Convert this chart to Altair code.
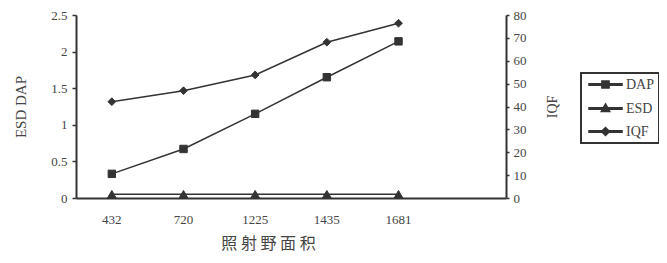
import altair as alt
import pandas as pd

# ---- data ----
areas = ["432", "720", "1225", "1435", "1681"]
dap = [0.33, 0.67, 1.15, 1.65, 2.14]
esd = [0.05, 0.05, 0.05, 0.05, 0.05]
iqf = [42.1, 46.9, 53.8, 68.1, 76.4]
x_domain = areas + [""]          # empty sixth slot at the right of the x axis
series_names = ["DAP", "ESD", "IQF"]
left_ticks = [0, 0.5, 1, 1.5, 2, 2.5]
right_ticks = [0, 10, 20, 30, 40, 50, 60, 70, 80]

rows = []
for a, d, e, q in zip(areas, dap, esd, iqf):
    rows.append({"area": a, "series": "DAP", "value": d})
    rows.append({"area": a, "series": "ESD", "value": e})
    rows.append({"area": a, "series": "IQF", "value": q})
df = pd.DataFrame(rows)

INK = "#333333"
TXT = "#444444"
SERIF = "Liberation Serif"

x_enc = alt.X(
    "area:N",
    sort=x_domain,
    scale=alt.Scale(domain=x_domain, type="band", paddingInner=0, paddingOuter=0),
    axis=alt.Axis(
        title="照 射 野 面 积",
        titleFont="Noto Sans CJK SC",
        titleFontSize=16,
        titleFontWeight="normal",
        titleColor=TXT,
        titlePadding=9,
        titleX=192,
        labelAngle=0,
        labelFontSize=13,
        labelPadding=15,
        ticks=False,
    ),
)

left_axis = alt.Axis(
    values=left_ticks,
    format="~g",
    title="ESD  DAP",
    titleFontSize=15,
    titlePadding=22,
    tickSize=4,
    labelPadding=5,
)
right_axis = alt.Axis(
    orient="right",
    values=right_ticks,
    format="d",
    title="IQF",
    titleAngle=270,
    titleFontSize=14,
    titlePadding=33,
    tickSize=3,
    labelPadding=4,
)

y_left = alt.Y("value:Q", scale=alt.Scale(domain=[0, 2.5], nice=False, zero=True), axis=left_axis)
y_right = alt.Y("value:Q", scale=alt.Scale(domain=[0, 80], nice=False, zero=True), axis=right_axis)

base = alt.Chart(df)


def series_layers(name, shape, size, y_enc):
    b = base.transform_filter(alt.datum.series == name)
    line = b.mark_line(color=INK, strokeWidth=1.5).encode(x=x_enc, y=y_enc)
    pts = b.mark_point(shape=shape, filled=True, fill=INK, stroke=INK,
                       strokeWidth=1, size=size, opacity=1).encode(x=x_enc, y=y_enc)
    return [line, pts]


# legend symbols: a thin filled bar (line stub) with the marker in its middle
STUB = "M-0.54,-0.11H4.54V0.11H-0.54Z"
legend_paths = [
    STUB + "M1.45,-0.55H2.55V0.55H1.45Z",
    STUB + "M2,-0.7L2.65,0.45H1.35Z",
    STUB + "M2,-0.62L2.62,0L2,0.62L1.38,0Z",
]
legend_layer = alt.Chart(df).transform_filter("false").mark_point(
    filled=True, fill=INK, stroke=INK, strokeWidth=0, size=169, opacity=1
).encode(
    shape=alt.Shape(
        "series:N",
        scale=alt.Scale(domain=series_names, range=legend_paths),
        legend=alt.Legend(
            title=None,
            orient="none",
            legendX=505,
            legendY=58,
            padding=4,
            labelOffset=26,
            rowPadding=8,
            labelFont=SERIF,
            labelFontSize=14,
            labelColor=TXT,
            strokeColor=INK,
            symbolFillColor=INK,
            symbolSize=169,
        ),
    )
)

left = alt.layer(
    *series_layers("DAP", "square", 55, y_left),
    *series_layers("ESD", "triangle-up", 80, y_left),
    legend_layer,
)
right = alt.layer(*series_layers("IQF", "diamond", 60, y_right))

chart = (
    alt.layer(left, right)
    .resolve_scale(y="independent")
    .properties(
        width=430,
        height=183,
        padding={"left": 68, "top": 7, "right": 153, "bottom": 57},
        autosize=alt.AutoSizeParams(type="none"),
        background="white",
    )
    .configure_view(stroke=None)
    .configure_axis(
        grid=False,
        domainColor=INK,
        domainWidth=2,
        tickColor=INK,
        tickWidth=1.5,
        labelFont=SERIF,
        labelFontSize=13,
        labelColor=TXT,
        titleFont=SERIF,
        titleFontWeight="normal",
        titleColor=TXT,
    )
    .configure_legend(strokeWidth=2)
)

chart.save("out.html", embed_options={"renderer": "svg", "actions": False})
